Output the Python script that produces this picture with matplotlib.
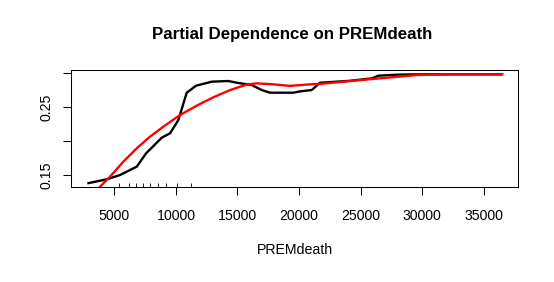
import matplotlib
matplotlib.use('Agg')
import matplotlib.pyplot as plt

plt.rcParams['font.family'] = ['Liberation Sans', 'DejaVu Sans']

# partial dependence (black)
pd_x = [2900, 4380, 5460, 6820, 7575, 8850, 9525, 10200, 10880, 11640, 12910,
        14260, 14940, 16160, 16975, 17650, 19540, 20100, 21030, 21710, 24150,
        25910, 26450, 27940, 29500, 36400]
pd_y = [0.1385, 0.1441, 0.1504, 0.1627, 0.1823, 0.2053, 0.2118, 0.2313, 0.2715,
        0.2818, 0.2877, 0.2887, 0.2862, 0.2828, 0.2754, 0.2715, 0.2715, 0.2735,
        0.2754, 0.2862, 0.2890, 0.2926, 0.2965, 0.2980, 0.2985, 0.2985]

# smoothed fit (red)
sm_x = [2900, 3840, 4650, 5730, 6820, 7900, 8980, 10340, 11690, 13040, 14400,
        15760, 16570, 17920, 19270, 20900, 21710, 25910, 29570, 32000, 36520]
sm_y = [0.1110, 0.1332, 0.1480, 0.1700, 0.1897, 0.2068, 0.2215, 0.2387, 0.2524,
        0.2647, 0.2754, 0.2835, 0.2853, 0.2838, 0.2815, 0.2838, 0.2845, 0.2916,
        0.2975, 0.2985, 0.2985]

# deciles of PREMdeath (rug)
rug_x = [5350, 6220, 6760, 7300, 7870, 8520, 9220, 10090, 11260]

x_ticks = [5000, 10000, 15000, 20000, 25000, 30000, 35000]
y_ticks = [0.15, 0.20, 0.25, 0.30]
y_labels = ['0.15', '', '0.25', '']

W, H = 554, 282
fig = plt.figure(figsize=(W / 100, H / 100), dpi=100)
ax = fig.add_axes([71 / W, 1 - 187 / H, (518 - 71) / W, (187 - 70) / H])

ax.plot(pd_x, pd_y, color='black', lw=1.7)
ax.plot(sm_x, sm_y, color='red', lw=1.7)
ax.vlines(rug_x, 0, 0.03, color='black', lw=0.6,
          transform=ax.get_xaxis_transform())

ax.set_xlim(1480, 37789)
ax.set_ylim(0.1328, 0.3049)

ax.set_xticks(x_ticks)
ax.set_xticklabels([str(t) for t in x_ticks])
ax.set_yticks(y_ticks)
ax.set_yticklabels(y_labels, rotation=90, va='center')

ax.tick_params(axis='both', direction='out', length=5.8, width=0.75,
               labelsize=10.2, colors='black')
ax.tick_params(axis='x', pad=10)
ax.tick_params(axis='y', pad=6.8)
for s in ax.spines.values():
    s.set_linewidth(0.75)
    s.set_color('black')

fig.text(292 / W, 1 - 39.5 / H, 'Partial Dependence on PREMdeath',
         ha='center', va='baseline', fontsize=12.2, fontweight='bold')
fig.text(294.5 / W, 1 - 254.3 / H, 'PREMdeath', ha='center', va='baseline',
         fontsize=10.2)

fig.savefig('out.png', dpi=100)
